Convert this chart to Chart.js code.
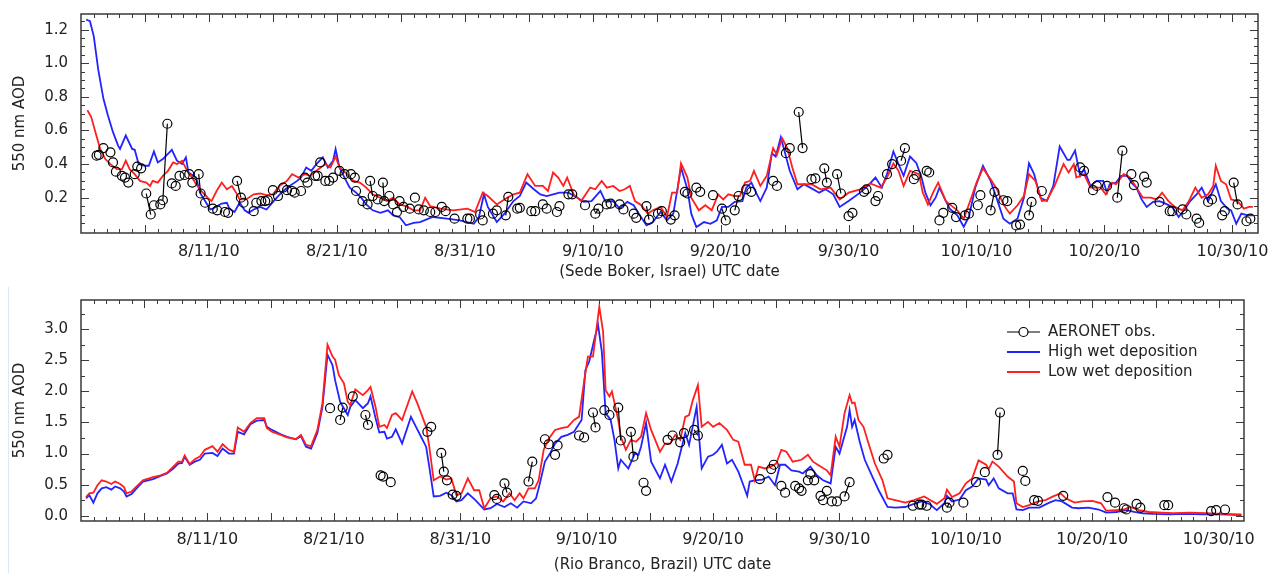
<!DOCTYPE html>
<html>
<head>
<meta charset="utf-8">
<script src="https://cdn.jsdelivr.net/npm/chart.js@4"></script>
<style>
  body { margin: 0; background: #fff; }
  #wrap { position: relative; width: 1273px; height: 573px; }
  #wrap canvas { position: absolute; left: 0; }
  #top-chart { top: 0; }
  #bottom-chart { top: 285px; }
  #edge { position: absolute; left: 8px; top: 287px; width: 1px; height: 286px; background: #d6eaf8; }
</style>
</head>
<body>
<div id="wrap">
  <canvas id="top-chart" width="1273" height="285"></canvas>
  <canvas id="bottom-chart" width="1273" height="288"></canvas>
  <div id="edge"></div>
</div>
<script>
// Days are counted from 8/1/10 00 UTC; the axis runs to 11/1/10.
const DAY_MAX = 92;
const tickDays = [10, 20, 30, 40, 50, 60, 70, 80, 90];
const tickLabels = ['8/11/10', '8/21/10', '8/31/10', '9/10/10', '9/20/10', '9/30/10', '10/10/10', '10/20/10', '10/30/10'];

// ---- Sede Boker, Israel ----
const topYTicks = [0.2, 0.4, 0.6, 0.8, 1.0, 1.2];

const topHiDays = [
  0.4, 0.7, 1.0, 1.35, 1.75, 2.1, 2.5, 2.9, 3.05, 3.5,
  4.0, 4.2, 4.5, 5.0, 5.3, 5.7, 6.0, 6.4, 7.1, 7.5,
  7.9, 8.2, 8.4, 9.0, 9.3, 9.7, 10.1, 10.3, 11.0, 11.4,
  11.6, 12.0, 12.4, 12.8, 13.1, 13.5, 14.0, 14.5, 15.3, 15.8,
  16.3, 16.9, 17.2, 17.6, 18.0, 18.4, 18.9, 19.3, 19.7, 19.9,
  20.2, 20.6, 21.0, 21.5, 21.9, 22.3, 22.8, 23.4, 24.0, 24.4,
  24.9, 25.4, 26.0, 26.5, 27.5, 28.6, 29.6, 30.7, 31.1, 31.5,
  31.8, 32.5, 33.1, 33.8, 34.3, 34.8, 35.4, 35.9, 36.4, 36.9,
  37.4, 38.1, 38.8, 39.3, 39.9, 40.6, 41.0, 41.6, 42.1, 42.7,
  43.2, 43.6, 44.2, 44.7, 45.3, 45.8, 46.3, 46.9, 47.4, 47.7,
  48.1, 48.7, 49.2, 49.7, 50.1, 50.6, 51.1, 51.7, 52.0, 52.4,
  52.7, 53.1, 53.6, 54.0, 54.3, 54.7, 55.0, 55.4, 56.0, 56.5,
  57.0, 57.7, 58.2, 58.8, 59.3, 60.0, 60.9, 61.5, 62.1, 62.6,
  63.0, 63.5, 63.9, 64.3, 64.8, 65.3, 65.7, 66.0, 66.4, 66.8,
  67.1, 67.6, 67.9, 68.5, 69.0, 69.4, 69.9, 70.5, 71.1, 71.6,
  72.1, 72.6, 73.2, 73.7, 74.1, 74.5, 75.0, 75.5, 76.0, 76.5,
  77.1, 77.3, 77.7, 78.1, 78.4, 78.9, 79.4, 79.9, 80.2, 80.4,
  80.9, 81.3, 81.8, 82.1, 82.5, 82.9, 83.3, 83.8, 84.3, 84.9,
  85.3, 85.8, 86.3, 86.7, 87.2, 87.6, 88.1, 88.7, 89.1, 89.6,
  89.9, 90.3, 90.7, 91.2, 91.6
];
const topHiAod = [
  1.26, 1.25, 1.16, 0.96, 0.79, 0.69, 0.59, 0.51, 0.49, 0.57,
  0.49, 0.485, 0.40, 0.39, 0.39, 0.475, 0.41, 0.43, 0.485, 0.42,
  0.40, 0.44, 0.35, 0.32, 0.23, 0.18, 0.13, 0.135, 0.165, 0.17,
  0.135, 0.115, 0.17, 0.125, 0.11, 0.13, 0.145, 0.13, 0.20, 0.24,
  0.27, 0.30, 0.32, 0.38, 0.36, 0.40, 0.44, 0.38, 0.42, 0.49,
  0.38, 0.32, 0.26, 0.23, 0.20, 0.16, 0.125, 0.11, 0.125, 0.095,
  0.085, 0.036, 0.05, 0.055, 0.085, 0.075, 0.065, 0.045, 0.085, 0.22,
  0.145, 0.055, 0.105, 0.18, 0.21, 0.29, 0.25, 0.22, 0.21, 0.22,
  0.23, 0.23, 0.20, 0.175, 0.18, 0.24, 0.175, 0.18, 0.135, 0.175,
  0.155, 0.105, 0.035, 0.055, 0.115, 0.065, 0.105, 0.38, 0.25, 0.105,
  0.025, 0.055, 0.045, 0.065, 0.145, 0.145, 0.175, 0.18, 0.26, 0.29,
  0.24, 0.18, 0.26, 0.465, 0.445, 0.56, 0.475, 0.36, 0.25, 0.28,
  0.26, 0.23, 0.25, 0.22, 0.145, 0.18, 0.23, 0.27, 0.32, 0.26,
  0.34, 0.475, 0.40, 0.33, 0.445, 0.405, 0.32, 0.23, 0.155, 0.20,
  0.26, 0.18, 0.135, 0.095, 0.027, 0.085, 0.26, 0.39, 0.30, 0.19,
  0.075, 0.045, 0.075, 0.20, 0.405, 0.34, 0.20, 0.18, 0.27, 0.505,
  0.425, 0.425, 0.48, 0.33, 0.37, 0.27, 0.30, 0.30, 0.23, 0.28,
  0.29, 0.33, 0.33, 0.29, 0.26, 0.19, 0.145, 0.175, 0.18, 0.16,
  0.145, 0.085, 0.135, 0.18, 0.22, 0.26, 0.18, 0.28, 0.18, 0.135,
  0.125, 0.045, 0.105, 0.095, 0.095
];

const topLoDays = [
  0.5, 0.8, 1.2, 1.5, 1.9, 2.3, 2.8, 3.2, 3.5, 3.8,
  4.2, 4.6, 5.1, 5.4, 5.6, 6.0, 6.4, 6.8, 7.2, 7.5,
  7.9, 8.3, 8.6, 9.0, 9.4, 9.9, 10.2, 10.6, 11.0, 11.4,
  11.8, 12.2, 12.4, 12.9, 13.5, 14.0, 14.5, 15.0, 15.5, 16.1,
  16.5, 17.0, 17.5, 17.9, 18.4, 19.1, 19.5, 19.9, 20.2, 20.8,
  21.3, 21.8, 22.3, 22.8, 23.4, 23.9, 24.4, 24.9, 25.4, 26.0,
  26.5, 26.9, 27.3, 28.1, 29.1, 30.2, 30.8, 31.4, 31.8, 32.5,
  33.3, 33.8, 34.3, 34.9, 35.5, 36.1, 36.5, 36.9, 37.3, 37.7,
  38.0, 38.5, 39.1, 39.8, 40.2, 40.7, 41.1, 41.6, 42.1, 42.5,
  42.9, 43.3, 43.8, 44.3, 44.7, 45.3, 45.8, 46.2, 46.6, 46.9,
  47.4, 47.7, 48.3, 48.8, 49.3, 49.8, 50.2, 50.6, 51.1, 51.5,
  51.9, 52.3, 52.6, 53.1, 53.6, 54.1, 54.4, 54.8, 55.2, 55.6,
  56.0, 56.5, 57.1, 57.8, 58.6, 59.3, 60.0, 60.9, 61.7, 62.5,
  63.0, 63.5, 63.9, 64.3, 64.8, 65.5, 65.8, 66.2, 66.6, 67.0,
  67.6, 67.9, 68.5, 69.0, 69.5, 70.0, 70.5, 71.1, 71.6, 72.1,
  72.6, 73.2, 73.7, 74.1, 74.6, 75.1, 75.5, 76.1, 76.8, 77.2,
  77.6, 77.8, 78.4, 78.9, 79.7, 80.1, 80.6, 80.9, 81.5, 82.0,
  82.5, 83.0, 83.6, 84.1, 84.5, 85.0, 85.5, 86.1, 86.6, 87.1,
  87.6, 88.1, 88.5, 88.7, 89.1, 89.5, 89.9, 90.4, 90.9, 91.3,
  91.6
];
const topLoAod = [
  0.72, 0.68, 0.57, 0.49, 0.43, 0.40, 0.37, 0.37, 0.42, 0.37,
  0.34, 0.30, 0.29, 0.27, 0.30, 0.29, 0.33, 0.36, 0.41, 0.40,
  0.42, 0.36, 0.33, 0.28, 0.24, 0.20, 0.18, 0.24, 0.29, 0.25,
  0.27, 0.22, 0.19, 0.19, 0.22, 0.225, 0.215, 0.22, 0.27, 0.30,
  0.34, 0.32, 0.34, 0.33, 0.36, 0.40, 0.38, 0.445, 0.38, 0.34,
  0.30, 0.29, 0.26, 0.22, 0.20, 0.18, 0.20, 0.16, 0.15, 0.125,
  0.125, 0.20, 0.15, 0.135, 0.125, 0.135, 0.115, 0.23, 0.21, 0.16,
  0.20, 0.22, 0.23, 0.34, 0.27, 0.27, 0.24, 0.35, 0.32, 0.27,
  0.32, 0.22, 0.18, 0.26, 0.25, 0.30, 0.26, 0.27, 0.24, 0.25,
  0.27, 0.18, 0.155, 0.105, 0.125, 0.145, 0.085, 0.23, 0.23, 0.405,
  0.32, 0.20, 0.125, 0.155, 0.125, 0.22, 0.19, 0.22, 0.21, 0.21,
  0.29, 0.30, 0.36, 0.27, 0.33, 0.495, 0.455, 0.555, 0.495, 0.38,
  0.28, 0.28, 0.28, 0.25, 0.26, 0.19, 0.23, 0.25, 0.285, 0.26,
  0.32, 0.405, 0.36, 0.27, 0.36, 0.34, 0.23, 0.16, 0.23, 0.29,
  0.18, 0.16, 0.125, 0.075, 0.18, 0.29, 0.375, 0.31, 0.25, 0.16,
  0.105, 0.155, 0.21, 0.34, 0.30, 0.18, 0.185, 0.27, 0.40, 0.35,
  0.40, 0.32, 0.34, 0.26, 0.26, 0.22, 0.29, 0.28, 0.34, 0.32,
  0.26, 0.20, 0.20, 0.19, 0.23, 0.18, 0.145, 0.125, 0.18, 0.26,
  0.20, 0.22, 0.27, 0.39, 0.30, 0.28, 0.19, 0.18, 0.135, 0.145,
  0.145
];

const topObsDays = [
  1.22, 1.4, 1.75, 2.3, 2.5, 2.73, 3.2, 3.44, 3.7, 4.2,
  4.4, 4.7, 5.1, 5.45, 5.7, 6.2, 6.4, 6.75, 7.1, 7.4,
  7.7, 8.1, 8.46, 8.7, 9.2, 9.35, 9.7, 10.3, 10.65, 11.25,
  11.5, 12.2, 12.5, 12.7, 13.5, 13.7, 14.1, 14.4, 14.6, 15.0,
  15.4, 15.8, 16.1, 16.5, 16.7, 17.2, 17.5, 17.7, 18.3, 18.5,
  18.7, 19.1, 19.4, 19.7, 20.2, 20.6, 21.1, 21.4, 21.5, 22.0,
  22.4, 22.6, 22.8, 23.2, 23.6, 23.7, 24.1, 24.4, 24.7, 24.9,
  25.2, 25.7, 26.1, 26.4, 26.8, 27.3, 27.7, 28.2, 28.5, 29.2,
  30.2, 30.4, 31.2, 31.4, 32.2, 32.5, 33.2, 33.4, 34.1, 34.3,
  35.2, 35.5, 36.1, 36.4, 37.2, 37.4, 38.1, 38.4, 39.4, 40.2,
  40.45, 41.1, 41.4, 42.1, 42.4, 43.2, 43.4, 44.2, 44.4, 45.1,
  45.4, 46.1, 46.4, 47.2, 47.4, 48.1, 48.4, 49.4, 50.1, 50.4,
  51.1, 51.4, 52.0, 52.4, 54.1, 54.4, 55.1, 55.4, 56.1, 56.4,
  57.1, 57.4, 58.1, 58.3, 59.1, 59.4, 60.0, 60.3, 61.2, 61.4,
  62.1, 62.3, 63.0, 63.4, 64.1, 64.4, 65.1, 65.3, 66.1, 66.3,
  67.1, 67.4, 68.1, 68.4, 69.1, 69.4, 70.1, 70.3, 71.1, 71.4,
  72.1, 72.4, 73.1, 73.4, 74.1, 74.3, 75.1, 78.1, 78.4, 79.1,
  79.4, 80.2, 81.0, 81.4, 82.1, 82.3, 83.1, 83.3, 84.3, 85.1,
  85.3, 86.1, 86.4, 87.2, 87.4, 88.1, 88.4, 89.2, 89.4, 90.1,
  90.4, 91.1, 91.4
];
const topObsAod = [
  0.45, 0.455, 0.495, 0.47, 0.41, 0.355, 0.33, 0.32, 0.29, 0.34,
  0.385, 0.375, 0.225, 0.10, 0.155, 0.16, 0.185, 0.64, 0.285, 0.27,
  0.33, 0.335, 0.34, 0.29, 0.34, 0.225, 0.17, 0.135, 0.125, 0.115,
  0.11, 0.30, 0.20, 0.17, 0.12, 0.17, 0.18, 0.18, 0.185, 0.245,
  0.21, 0.26, 0.245, 0.24, 0.23, 0.24, 0.32, 0.29, 0.33, 0.33,
  0.41, 0.30, 0.30, 0.32, 0.36, 0.34, 0.34, 0.32, 0.24, 0.18,
  0.16, 0.30, 0.21, 0.19, 0.29, 0.18, 0.21, 0.16, 0.115, 0.18,
  0.145, 0.135, 0.20, 0.13, 0.125, 0.115, 0.115, 0.145, 0.12, 0.075,
  0.075, 0.075, 0.10, 0.065, 0.105, 0.125, 0.095, 0.205, 0.135, 0.14,
  0.12, 0.12, 0.16, 0.135, 0.115, 0.15, 0.22, 0.22, 0.155, 0.105,
  0.135, 0.16, 0.165, 0.16, 0.13, 0.105, 0.08, 0.15, 0.07, 0.105,
  0.12, 0.07, 0.095, 0.235, 0.225, 0.26, 0.235, 0.215, 0.135, 0.065,
  0.125, 0.21, 0.25, 0.235, 0.30, 0.27, 0.465, 0.495, 0.71, 0.495,
  0.31, 0.315, 0.375, 0.29, 0.34, 0.225, 0.09, 0.11, 0.235, 0.25,
  0.18, 0.21, 0.34, 0.40, 0.42, 0.495, 0.31, 0.335, 0.36, 0.35,
  0.065, 0.11, 0.14, 0.085, 0.095, 0.105, 0.155, 0.215, 0.125, 0.235,
  0.185, 0.18, 0.035, 0.04, 0.095, 0.175, 0.24, 0.38, 0.36, 0.245,
  0.27, 0.27, 0.20, 0.48, 0.34, 0.275, 0.325, 0.29, 0.175, 0.12,
  0.12, 0.13, 0.10, 0.075, 0.05, 0.175, 0.19, 0.095, 0.12, 0.29,
  0.16, 0.06, 0.075
];
// observation days that are joined by a line to the one before
const topObsJoin = [5.45, 6.75, 9.35, 12.5, 22.8, 23.7, 33.4, 40.45, 44.4, 50.4,
  51.4, 56.4, 58.3, 59.4, 64.4, 71.4, 74.3, 81.4, 90.4];

// ---- Rio Branco, Brazil ----
const botYTicks = [0.0, 0.5, 1.0, 1.5, 2.0, 2.5, 3.0];

const botHiDays = [
  0.4, 0.66, 0.98, 1.3, 1.64, 2.0, 2.4, 2.7, 3.1, 3.4,
  3.6, 4.0, 4.4, 4.9, 5.7, 6.3, 6.8, 7.3, 7.7, 8.0,
  8.2, 8.6, 9.0, 9.4, 9.8, 10.4, 10.8, 11.2, 11.7, 12.1,
  12.4, 12.9, 13.4, 13.9, 14.5, 14.7, 15.1, 15.8, 16.3, 17.0,
  17.4, 17.8, 18.2, 18.7, 19.1, 19.5, 19.9, 20.1, 20.5, 21.1,
  21.3, 21.7, 22.3, 22.7, 22.9, 23.3, 23.6, 24.0, 24.2, 24.6,
  24.9, 25.4, 26.1, 26.5, 26.9, 27.3, 27.55, 27.9, 28.4, 28.9,
  29.3, 29.7, 30.1, 30.6, 31.2, 31.9, 32.4, 32.9, 33.5, 34.0,
  34.5, 35.0, 35.6, 36.0, 36.3, 36.7, 37.1, 37.5, 38.0, 38.5,
  39.0, 39.6, 39.9, 40.2, 40.6, 40.9, 41.2, 41.5, 41.9, 42.2,
  42.5, 42.7, 43.3, 43.8, 44.1, 44.3, 44.7, 45.1, 45.8, 46.2,
  46.7, 47.2, 47.8, 48.1, 48.7, 49.1, 49.6, 50.0, 50.3, 50.7,
  51.1, 51.5, 52.0, 52.4, 52.7, 52.9, 53.3, 53.9, 54.4, 54.9,
  55.3, 55.7, 56.2, 56.8, 57.1, 57.7, 58.2, 58.7, 59.3, 59.7,
  60.0, 60.6, 60.8, 61.0, 61.2, 61.6, 62.0, 62.6, 63.1, 63.8,
  64.4, 65.2, 65.9, 66.5, 67.1, 67.7, 68.3, 68.5, 68.9, 69.5,
  70.0, 70.5, 71.0, 71.6, 71.8, 72.2, 72.6, 73.3, 73.7, 74.0,
  74.5, 75.0, 75.8, 76.6, 77.1, 77.6, 78.4, 78.9, 79.7, 80.5,
  81.1, 81.9, 82.7, 83.3, 84.0, 84.8, 86.1, 87.4, 88.8, 90.1,
  91.8
];
const botHiAod = [
  0.28, 0.33, 0.21, 0.36, 0.44, 0.46, 0.42, 0.47, 0.44, 0.39,
  0.31, 0.35, 0.44, 0.55, 0.59, 0.64, 0.68, 0.76, 0.84, 0.85,
  0.95, 0.82, 0.87, 0.90, 1.0, 1.01, 0.96, 1.08, 1.0, 1.0,
  1.35, 1.31, 1.47, 1.53, 1.54, 1.43, 1.38, 1.31, 1.27, 1.23,
  1.28, 1.11, 1.08, 1.33, 1.75, 2.59, 2.42, 2.18, 1.83, 1.62,
  1.75, 1.86, 1.73, 1.81, 1.92, 1.57, 1.34, 1.35, 1.24, 1.27,
  1.39, 1.16, 1.59, 1.43, 1.27, 1.11, 0.79, 0.31, 0.32, 0.37,
  0.33, 0.23, 0.25, 0.36, 0.25, 0.10, 0.12, 0.19, 0.14, 0.20,
  0.13, 0.23, 0.20, 0.28, 0.52, 0.87, 1.0, 1.16, 1.27, 1.30,
  1.35, 1.54, 2.34, 2.48, 2.83, 3.07, 2.64, 1.65, 1.54, 1.22,
  0.76, 0.90, 0.76, 1.0, 0.98, 1.11, 1.49, 0.87, 0.60, 0.82,
  0.55, 0.84, 1.33, 1.14, 1.75, 0.76, 0.95, 0.98, 1.03, 1.14,
  0.84, 0.90, 0.71, 0.49, 0.32, 0.55, 0.57, 0.58, 0.63, 0.49,
  0.82, 0.82, 0.73, 0.71, 0.68, 0.79, 0.65, 0.57, 0.52, 1.11,
  1.0, 1.43, 1.70, 1.43, 1.54, 1.19, 0.90, 0.63, 0.41, 0.14,
  0.13, 0.14, 0.19, 0.23, 0.19, 0.09, 0.20, 0.32, 0.23, 0.26,
  0.41, 0.47, 0.60, 0.58, 0.49, 0.60, 0.44, 0.36, 0.36, 0.10,
  0.09, 0.13, 0.13, 0.21, 0.25, 0.23, 0.13, 0.12, 0.13, 0.10,
  0.05, 0.06, 0.09, 0.06, 0.04, 0.03, 0.02, 0.03, 0.02, 0.02,
  0.01
];

const botLoDays = [
  0.4, 0.66, 0.98, 1.3, 1.64, 2.0, 2.4, 2.7, 3.1, 3.4,
  3.6, 4.0, 4.4, 4.9, 5.7, 6.3, 6.8, 7.3, 7.7, 8.0,
  8.2, 8.6, 9.0, 9.4, 9.8, 10.4, 10.8, 11.2, 11.7, 12.1,
  12.4, 12.9, 13.4, 13.9, 14.5, 14.7, 15.1, 15.8, 16.3, 17.0,
  17.4, 17.8, 18.2, 18.7, 19.1, 19.5, 19.9, 20.1, 20.4, 20.8,
  21.1, 21.3, 21.7, 22.3, 22.7, 22.9, 23.3, 23.6, 24.0, 24.2,
  24.6, 24.9, 25.4, 26.2, 26.6, 26.9, 27.3, 27.55, 27.9, 28.4,
  28.9, 29.3, 29.7, 30.1, 30.6, 31.1, 31.5, 31.9, 32.4, 32.9,
  33.4, 33.9, 34.3, 34.7, 35.0, 35.4, 35.9, 36.2, 36.6, 37.0,
  37.5, 38.0, 38.5, 39.0, 39.4, 39.8, 40.1, 40.5, 40.8, 41.0,
  41.3, 41.5, 41.8, 42.0, 42.5, 42.7, 43.1, 43.5, 43.9, 44.3,
  44.7, 45.1, 45.8, 46.2, 46.6, 47.0, 47.4, 47.8, 48.1, 48.4,
  48.8, 49.1, 49.6, 50.0, 50.5, 51.1, 51.6, 52.0, 52.5, 53.0,
  53.3, 53.6, 54.1, 54.6, 55.0, 55.4, 55.8, 56.3, 57.0, 57.5,
  57.9, 58.5, 59.0, 59.3, 59.7, 60.0, 60.4, 60.8, 61.0, 61.2,
  61.5, 61.9, 62.3, 62.8, 63.4, 63.8, 64.4, 65.2, 65.9, 66.7,
  67.1, 67.7, 68.3, 68.5, 68.9, 69.5, 70.0, 70.5, 71.0, 71.6,
  71.8, 72.1, 72.6, 73.3, 73.8, 74.0, 74.5, 75.0, 75.7, 76.3,
  76.9, 77.5, 77.9, 78.6, 79.2, 80.0, 80.7, 81.1, 81.9, 82.5,
  83.0, 83.7, 84.5, 85.5, 86.4, 87.7, 89.0, 90.3, 91.8
];
const botLoAod = [
  0.30, 0.36, 0.37, 0.49, 0.57, 0.55, 0.51, 0.55, 0.51, 0.46,
  0.36, 0.39, 0.47, 0.57, 0.62, 0.65, 0.69, 0.79, 0.87, 0.87,
  0.97, 0.83, 0.91, 0.95, 1.06, 1.12, 1.03, 1.15, 1.06, 1.03,
  1.42, 1.35, 1.49, 1.57, 1.57, 1.41, 1.35, 1.30, 1.26, 1.23,
  1.30, 1.14, 1.12, 1.38, 1.81, 2.75, 2.56, 2.51, 2.26, 2.13,
  1.83, 1.78, 2.03, 1.94, 2.02, 2.07, 1.75, 1.43, 1.46, 1.41,
  1.62, 1.65, 1.54, 2.0, 1.81, 1.65, 1.43, 1.11, 0.57, 0.63,
  0.58, 0.60, 0.33, 0.36, 0.60, 0.41, 0.41, 0.12, 0.28, 0.31,
  0.23, 0.36, 0.25, 0.36, 0.28, 0.44, 0.44, 0.57, 1.06, 1.24,
  1.38, 1.41, 1.43, 1.54, 1.59, 2.16, 2.56, 2.56, 3.04, 3.36,
  2.96, 2.02, 1.92, 2.0, 1.54, 1.27, 1.06, 1.22, 1.19, 1.27,
  1.65, 1.38, 1.03, 1.16, 1.16, 1.30, 1.22, 1.59, 1.62, 1.86,
  2.10, 1.43, 1.51, 1.43, 1.49, 1.38, 1.22, 1.19, 0.82, 0.82,
  0.57, 0.79, 0.76, 0.79, 0.84, 1.06, 1.03, 0.87, 0.90, 0.98,
  0.87, 0.79, 0.73, 0.65, 1.27, 1.11, 1.65, 1.94, 1.81, 1.82,
  1.54, 1.43, 1.16, 0.84, 0.57, 0.28, 0.25, 0.21, 0.25, 0.31,
  0.26, 0.19, 0.28, 0.42, 0.30, 0.36, 0.52, 0.60, 0.89, 0.82,
  0.75, 0.87, 0.79, 0.63, 0.55, 0.20, 0.14, 0.17, 0.23, 0.25,
  0.31, 0.36, 0.28, 0.21, 0.23, 0.24, 0.20, 0.08, 0.09, 0.10,
  0.14, 0.09, 0.06, 0.05, 0.04, 0.05, 0.04, 0.03, 0.02
];

const botObsDays = [
  19.7, 20.5, 20.7, 21.5, 22.5, 22.7, 23.7, 23.9, 24.5, 27.4,
  27.7, 28.5, 28.7, 28.95, 29.4, 29.7, 32.7, 32.9, 33.5, 33.7,
  35.4, 35.7, 36.7, 37.0, 37.5, 37.7, 39.4, 39.8, 40.5, 40.7,
  41.4, 41.8, 42.5, 42.7, 43.5, 43.7, 44.5, 44.7, 46.4, 46.8,
  47.4, 47.7, 48.5, 48.8, 53.7, 54.6, 54.8, 55.4, 55.7, 56.5,
  56.8, 57.0, 57.5, 57.7, 58.0, 58.5, 58.7, 59.0, 59.4, 59.8,
  60.4, 60.8, 63.5, 63.8, 65.8, 66.3, 66.5, 66.9, 68.5, 68.7,
  69.8, 70.8, 71.5, 72.5, 72.7, 74.5, 74.7, 75.4, 75.7, 77.7,
  81.2, 81.8, 82.5, 82.7, 83.5, 83.8, 85.7, 86.0, 89.4, 89.8,
  90.5
];
const botObsAod = [
  1.73, 1.54, 1.74, 1.92, 1.62, 1.46, 0.65, 0.63, 0.54, 1.35,
  1.43, 1.01, 0.71, 0.57, 0.34, 0.32, 0.33, 0.27, 0.52, 0.37,
  0.55, 0.87, 1.23, 1.15, 0.98, 1.13, 1.29, 1.26, 1.66, 1.42,
  1.70, 1.62, 1.74, 1.21, 1.35, 0.95, 0.53, 0.40, 1.22, 1.29,
  1.18, 1.33, 1.38, 1.29, 0.59, 0.75, 0.82, 0.48, 0.37, 0.48,
  0.44, 0.40, 0.57, 0.67, 0.57, 0.32, 0.25, 0.40, 0.23, 0.23,
  0.31, 0.54, 0.92, 0.98, 0.16, 0.18, 0.18, 0.16, 0.13, 0.21,
  0.21, 0.54, 0.70, 0.98, 1.66, 0.72, 0.56, 0.25, 0.24, 0.32,
  0.30, 0.21, 0.12, 0.10, 0.19, 0.13, 0.17, 0.17, 0.075, 0.09,
  0.10
];
const botObsJoin = [20.7, 22.7, 28.7, 33.7, 35.7, 40.7, 42.7, 43.7, 48.8, 60.8, 68.7, 72.7];

const FONT = '"DejaVu Sans", "Liberation Sans", sans-serif';
const TEXT = '#222';

function toPoints(days, vals) {
  return days.map((d, i) => ({ x: d, y: vals[i] }));
}

// a null point between two observations breaks the line
function obsPoints(days, vals, joins) {
  const pts = [];
  days.forEach((d, i) => {
    if (i > 0 && !joins.includes(d)) pts.push({ x: d - 0.01, y: null });
    pts.push({ x: d, y: vals[i] });
  });
  return pts;
}

// inward ticks on all four sides, the frame, and an optional inset legend
const frameTicks = {
  id: 'frameTicks',
  afterDatasetsDraw(chart, args, opts) {
    const { ctx, chartArea: a, scales: { x, y } } = chart;
    ctx.save();
    ctx.strokeStyle = '#3a3a3a';
    ctx.lineWidth = 1;
    ctx.beginPath();
    for (let d = 1; d < DAY_MAX; d++) {
      const px = Math.round(x.getPixelForValue(d)) + 0.5;
      const len = d % 5 === 0 ? 8 : 4;
      ctx.moveTo(px, a.bottom); ctx.lineTo(px, a.bottom - len);
      ctx.moveTo(px, a.top); ctx.lineTo(px, a.top + len);
    }
    for (let k = Math.ceil(y.min / opts.minorStep); k * opts.minorStep < y.max; k++) {
      const v = k * opts.minorStep;
      const py = Math.round(y.getPixelForValue(v)) + 0.5;
      if (py > a.bottom - 2) continue;
      const r = v / opts.majorStep;
      const len = Math.abs(r - Math.round(r)) < 1e-6 ? 8 : 4;
      ctx.moveTo(a.left, py); ctx.lineTo(a.left + len, py);
      ctx.moveTo(a.right, py); ctx.lineTo(a.right - len, py);
    }
    ctx.stroke();
    ctx.lineWidth = 1.5;
    ctx.strokeRect(a.left, a.top, a.width, a.height);

    if (opts.legend) {
      ctx.font = '15px ' + FONT;
      ctx.textBaseline = 'middle';
      ctx.fillStyle = TEXT;
      chart.data.datasets.forEach((ds, i) => {
        const yy = a.top + 32 + i * 20;
        const x0 = a.right - 237, x1 = a.right - 204;
        ctx.strokeStyle = ds.borderColor;
        ctx.lineWidth = ds.borderWidth;
        ctx.beginPath();
        ctx.moveTo(x0, yy); ctx.lineTo(x1, yy);
        ctx.stroke();
        if (ds.pointRadius > 0) {
          ctx.fillStyle = '#fff';
          ctx.beginPath();
          ctx.arc((x0 + x1) / 2, yy, ds.pointRadius, 0, Math.PI * 2);
          ctx.fill();
          ctx.stroke();
          ctx.fillStyle = TEXT;
        }
        ctx.fillText(ds.label, a.right - 196, yy);
      });
    }
    ctx.restore();
  }
};

function makePanel(id, p) {
  return new Chart(document.getElementById(id), {
    type: 'line',
    data: {
      datasets: [
        {
          label: 'AERONET obs.',
          data: obsPoints(p.obsDays, p.obsAod, p.obsJoin),
          borderColor: '#000', borderWidth: 1.2,
          pointRadius: 4.5, pointBorderWidth: 1.2,
          pointBorderColor: '#000', pointBackgroundColor: 'rgba(0,0,0,0)',
          spanGaps: false, order: 0,
        },
        {
          label: 'High wet deposition',
          data: toPoints(p.hiDays, p.hiAod),
          borderColor: '#2323ff', borderWidth: 1.8, pointRadius: 0, order: 2,
        },
        {
          label: 'Low wet deposition',
          data: toPoints(p.loDays, p.loAod),
          borderColor: '#ff1f1f', borderWidth: 1.8, pointRadius: 0, order: 1,
        },
      ],
    },
    options: {
      responsive: false,
      animation: false,
      parsing: false,
      layout: { padding: { left: 0, top: p.padTop, right: p.padRight, bottom: 0 } },
      plugins: {
        legend: { display: false },
        tooltip: { enabled: false },
        frameTicks: { minorStep: p.minorStep, majorStep: p.majorStep, legend: p.legend },
      },
      scales: {
        x: {
          type: 'linear', min: 0, max: DAY_MAX,
          grid: { display: false }, border: { display: false },
          afterBuildTicks: (s) => { s.ticks = tickDays.map((v) => ({ value: v })); },
          afterFit: (s) => { s.height = 52; },
          ticks: {
            autoSkip: false, maxRotation: 0, padding: 1, color: TEXT,
            font: { family: FONT, size: 16 },
            callback: (v) => tickLabels[tickDays.indexOf(v)] ?? '',
          },
          title: {
            display: true, text: p.xTitle, color: TEXT,
            font: { family: FONT, size: 15 },
            padding: { top: 0, bottom: p.xTitlePad },
          },
        },
        y: {
          type: 'linear', min: p.yMin, max: p.yMax,
          grid: { display: false }, border: { display: false },
          afterBuildTicks: (s) => { s.ticks = p.yTicks.map((v) => ({ value: v })); },
          afterFit: (s) => { s.width = 81; },
          ticks: {
            padding: 5, color: TEXT,
            font: { family: FONT, size: 15 },
            callback: (v) => v.toFixed(1),
          },
          title: {
            display: true, text: '550 nm AOD', color: TEXT,
            font: { family: FONT, size: 15 },
            padding: { top: 11, bottom: 0 },
          },
        },
      },
    },
    plugins: [frameTicks],
  });
}

makePanel('top-chart', {
  hiDays: topHiDays, hiAod: topHiAod, loDays: topLoDays, loAod: topLoAod,
  obsDays: topObsDays, obsAod: topObsAod, obsJoin: topObsJoin,
  yMin: -0.01, yMax: 1.293, yTicks: topYTicks, minorStep: 0.05, majorStep: 0.2,
  padTop: 10, padRight: 15, xTitlePad: 4, legend: false,
  xTitle: '(Sede Boker, Israel) UTC date',
});

makePanel('bottom-chart', {
  hiDays: botHiDays, hiAod: botHiAod, loDays: botLoDays, loAod: botLoAod,
  obsDays: botObsDays, obsAod: botObsAod, obsJoin: botObsJoin,
  yMin: -0.085, yMax: 3.47, yTicks: botYTicks, minorStep: 0.25, majorStep: 0.5,
  padTop: 15, padRight: 29, xTitlePad: -1, legend: true,
  xTitle: '(Rio Branco, Brazil) UTC date',
});
</script>
</body>
</html>
